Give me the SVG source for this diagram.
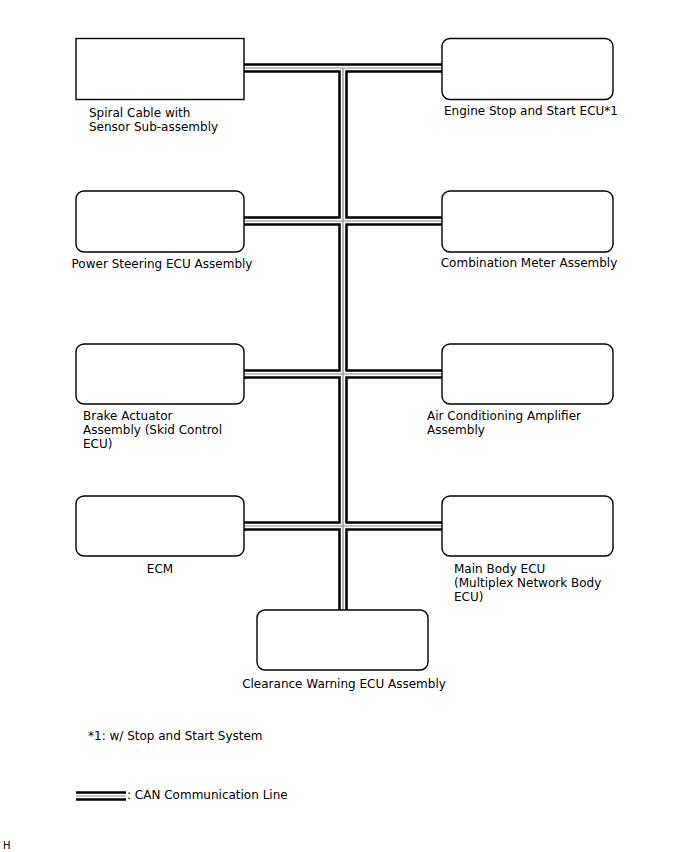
<svg xmlns="http://www.w3.org/2000/svg" width="688" height="852" viewBox="0 0 688 852">
<style>
.box{fill:#fff;stroke:#000;stroke-width:1.4}
text{font-family:"DejaVu Sans","Liberation Sans",sans-serif;font-size:12px;fill:#000}
.c{text-anchor:middle}
.o{fill:none;stroke:#000;stroke-width:9.5}
.w{fill:none;stroke:#fff;stroke-width:4.5}
.g{fill:none;stroke:#888;stroke-width:1.2}
</style>
<rect width="688" height="852" fill="#fff"/>
<g id="connectors">
<path class="o" d="M244,68H442M244,221H442M244,374H442M244,526H442M343,68V610"/>
<path class="w" d="M244,68H442M244,221H442M244,374H442M244,526H442M343,68V610"/>
<path class="g" d="M244,68H442M244,221H442M244,374H442M244,526H442M343,68V610"/>
</g>
<g id="spiral"><rect class="box" x="76" y="38.5" width="168" height="61"/><text x="89" y="117">Spiral Cable with</text><text x="89" y="131">Sensor Sub-assembly</text></g>
<g id="engine"><rect class="box" x="442" y="38.5" width="171" height="61" rx="8"/><text class="c" x="531" y="115">Engine Stop and Start ECU*1</text></g>
<g id="powersteering"><rect class="box" x="76" y="191" width="168" height="61" rx="8"/><text class="c" x="162" y="268">Power Steering ECU Assembly</text></g>
<g id="combination"><rect class="box" x="442" y="191" width="171" height="61" rx="8"/><text class="c" x="529" y="267">Combination Meter Assembly</text></g>
<g id="brake"><rect class="box" x="76" y="344" width="168" height="60" rx="8"/><text x="83" y="420">Brake Actuator</text><text x="83" y="434">Assembly (Skid Control</text><text x="83" y="448">ECU)</text></g>
<g id="aircon"><rect class="box" x="442" y="344" width="171" height="60" rx="8"/><text x="427" y="420">Air Conditioning Amplifier</text><text x="427" y="434">Assembly</text></g>
<g id="ecm"><rect class="box" x="76" y="496" width="168" height="60" rx="8"/><text class="c" x="160" y="573">ECM</text></g>
<g id="mainbody"><rect class="box" x="442" y="496" width="171" height="60" rx="8"/><text x="454" y="573">Main Body ECU</text><text x="454" y="587">(Multiplex Network Body</text><text x="454" y="601">ECU)</text></g>
<g id="clearance"><rect class="box" x="257" y="610" width="171" height="60" rx="8"/><text class="c" x="344" y="688">Clearance Warning ECU Assembly</text></g>
<text x="88" y="740">*1: w/ Stop and Start System</text>
<g id="legend">
<path d="M76,792.5H126M76,799.5H126" stroke="#000" stroke-width="2.6"/>
<path d="M76,796H126" stroke="#888" stroke-width="1.2"/>
<text x="127" y="799">: CAN Communication Line</text>
</g>
<text x="3" y="849" style="font-size:10px">H</text>
</svg>
